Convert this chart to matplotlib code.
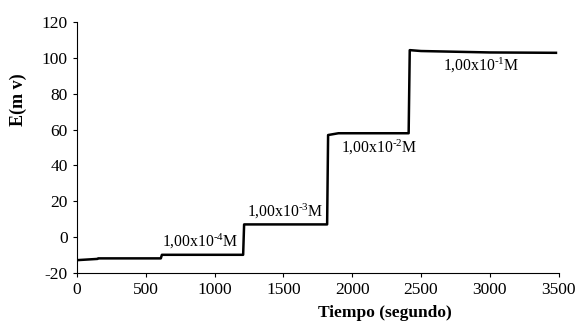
import matplotlib
matplotlib.use("Agg")
import matplotlib.pyplot as plt

plt.rcParams['font.family'] = ['Liberation Serif', 'DejaVu Serif']
plt.rcParams['mathtext.fontset'] = 'custom'
plt.rcParams['mathtext.rm'] = 'Liberation Serif'
plt.rcParams['mathtext.it'] = 'Liberation Serif:italic'
plt.rcParams['mathtext.bf'] = 'Liberation Serif:bold'
plt.rcParams['axes.unicode_minus'] = False

time_s = [0, 150, 155, 610, 618, 1208, 1215, 1818, 1825, 1900, 2410, 2418, 2500, 3000, 3480]
E_mv = [-13, -12.3, -12, -12, -10, -10, 7, 7, 57, 58, 58, 104.5, 104, 103.2, 103]

label_texts = ["1,00x10$^{\\mathrm{\u2010}4}$M", "1,00x10$^{\\mathrm{\u2010}3}$M",
               "1,00x10$^{\\mathrm{\u2010}2}$M", "1,00x10$^{\\mathrm{\u2010}1}$M"]
label_x = [617, 1234, 1917, 2658]
label_y = [-2.5, 14, 50, 96]

xticks = [0, 500, 1000, 1500, 2000, 2500, 3000, 3500]
yticks = [-20, 0, 20, 40, 60, 80, 100, 120]

fig = plt.figure(figsize=(5.82, 3.25), dpi=100)
ax = fig.add_axes([0.132, 0.161, 0.828, 0.770])
ax.plot(time_s, E_mv, color='black', lw=1.8)
for t, x, y in zip(label_texts, label_x, label_y):
    ax.text(x, y, t, fontsize=11.3, ha='left', va='center')

ax.set_xlim(0, 3500)
ax.set_ylim(-20, 120)
ax.set_xticks(xticks)
ax.set_yticks(yticks)
ax.spines['top'].set_visible(False)
ax.spines['right'].set_visible(False)
ax.tick_params(labelsize=12.5, length=3, direction='out')
ax.set_xlabel('Tiempo (segundo)', fontsize=12.5, fontweight='bold')
ax.set_ylabel('E(m v)', fontsize=13, fontweight='bold')
ax.xaxis.set_label_coords(0.64, -0.13)
ax.yaxis.set_label_coords(-0.104, 0.69)
fig.savefig('out.png', dpi=100)
